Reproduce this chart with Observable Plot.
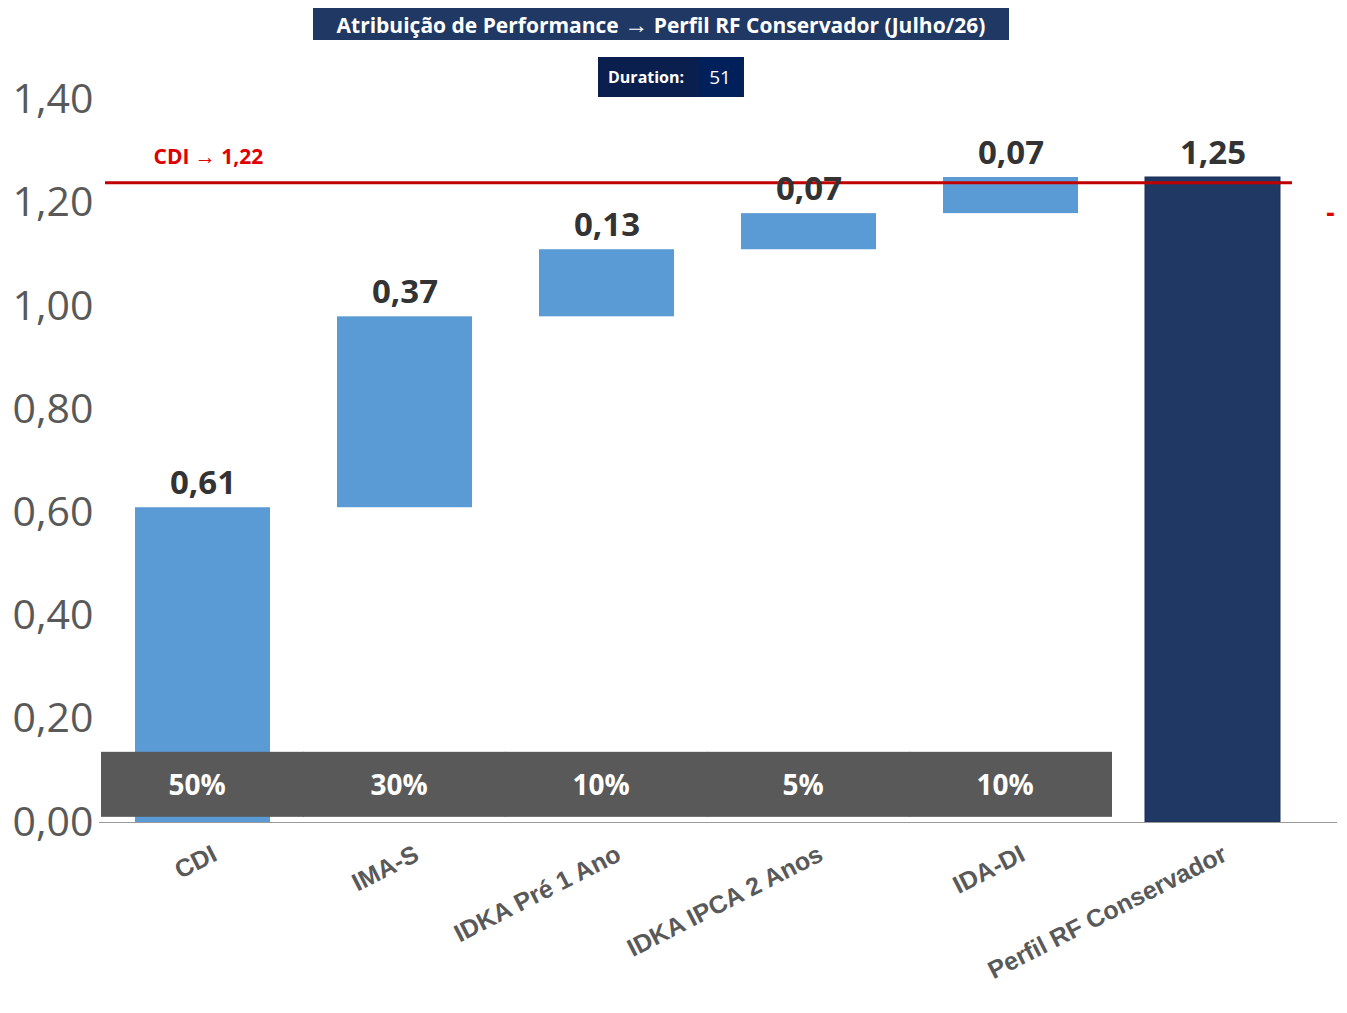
<!DOCTYPE html>
<html><head><meta charset="utf-8">
<script src="https://cdn.jsdelivr.net/npm/d3@7"></script>
<script src="https://cdn.jsdelivr.net/npm/@observablehq/plot@0.6"></script>
<style>
body{margin:0;background:#fff;font-family:"Open Sans",sans-serif}
#wrap{position:relative;width:1347px;height:1013px}
#title{position:absolute;left:313px;top:8px;width:696px;height:32px;background:#1f3864;color:#fff;font-weight:bold;font-size:21px;text-align:center;line-height:32px}
#dur{position:absolute;left:598px;top:57px;width:146px;height:40px;background:#0b1f4f;color:#fff;font-size:16px;line-height:40px}
#dur b{position:absolute;left:10px}
#dur span{position:absolute;left:101px;width:42px;height:40px;background:#00205b;font-size:19px;text-align:center}
#chart{position:absolute;left:0;top:0}
</style></head><body>
<div id="wrap"><div id="chart"></div>
<div id="title">Atribuição de Performance <span style="font-size:24px">→</span> Perfil RF Conservador (Julho/26)</div>
<div id="dur"><b>Duration:</b><span>51</span></div>
</div>
<script>
const categories=["CDI","IMA-S","IDKA Pré 1 Ano","IDKA IPCA 2 Anos","IDA-DI","Perfil RF Conservador"];
const contributions=[0.61,0.37,0.13,0.07,0.07,1.25];
const bottoms=[0,0.61,0.98,1.11,1.18,0];
const tops=[0.61,0.98,1.11,1.18,1.25,1.25];
const weights=["50%","30%","10%","5%","10%"];
const cdiLine=1.24;
const cdiLabel="CDI → 1,22";
const yTicks=[0,0.2,0.4,0.6,0.8,1.0,1.2,1.4];

const bars=categories.map((c,i)=>({c,y1:bottoms[i],y2:tops[i],v:contributions[i],total:i===categories.length-1}));
const band=weights.map((w,i)=>({c:categories[i],w}));
const fmt=v=>v.toFixed(2).replace(".",",");
const font='"Open Sans",sans-serif';
const plot=Plot.plot({
  width:1347,height:1010,marginTop:48,marginBottom:188,marginLeft:101,marginRight:33,
  style:{fontFamily:font,background:"transparent"},
  x:{domain:categories,paddingInner:0.33,paddingOuter:0.165,axis:null},
  y:{domain:[0,1.5],axis:null},
  marks:[
    Plot.barY(bars.filter(d=>!d.total),{x:"c",y1:"y1",y2:"y2",fill:"#5b9bd5"}),
    Plot.barY(bars.filter(d=>d.total),{x:"c",y1:"y1",y2:"y2",fill:"#203864",stroke:"#1a2e55"}),
    Plot.barY(band,{x:"c",y1:0.01,y2:0.136,fill:"#595959",insetLeft:-34,insetRight:-34}),
    Plot.text(band,{x:"c",y:0.07,text:"w",fill:"#fff",fontSize:28,fontWeight:"bold",dx:-6}),
    Plot.ruleY([0],{stroke:"#999",strokeWidth:1,insetLeft:-2,insetRight:-23}),
    Plot.ruleY([cdiLine],{stroke:"#c00000",strokeWidth:3,insetLeft:4,insetRight:22}),
    Plot.text([cdiLabel],{frameAnchor:"left",y:cdiLine,dx:52,dy:-25,text:d=>d,fill:"#e00000",fontSize:21,fontWeight:"bold",textAnchor:"start"}),
    Plot.text(["-"],{frameAnchor:"right",y:1.18,dx:20,text:d=>d,fill:"#e00000",fontSize:26,fontWeight:"bold"}),
    Plot.text(bars,{x:"c",y:"y2",text:d=>fmt(d.v),dy:-24,fontSize:33,fontWeight:"bold",fill:"#333"}),
    Plot.text(yTicks,{frameAnchor:"left",y:d=>d,text:d=>fmt(d),dx:-8,textAnchor:"end",fontSize:41,fill:"#595959"}),
    Plot.text(categories,{x:d=>d,y:0,text:d=>d,rotate:-27,textAnchor:"end",dx:12,dy:30,fontSize:25,fontWeight:"bold",fill:"#595959",fontFamily:"Liberation Sans"})
  ]
});
document.getElementById("chart").append(plot);
</script></body></html>
